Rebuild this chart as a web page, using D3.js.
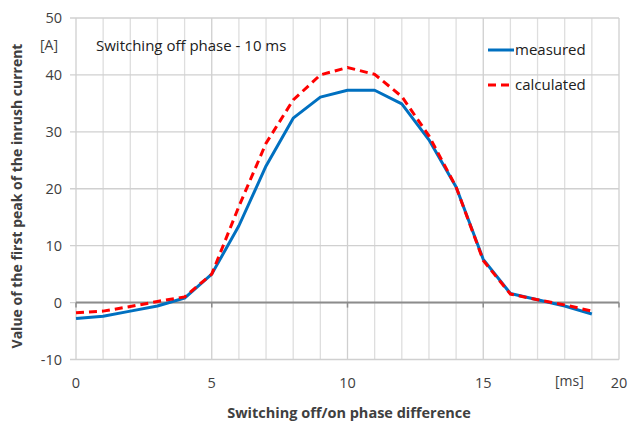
<!DOCTYPE html>
<html>
<head>
<meta charset="UTF-8">
<style>
  body { margin: 0; background: #ffffff; }
  svg { display: block; font-family: 'Open Sans', 'Noto Sans', sans-serif; }
</style>
</head>
<body>
<svg width="629" height="423"></svg>
<script src="https://cdn.jsdelivr.net/npm/d3@7"></script>
<script>
// chart values
const phaseMs = [0, 1, 2, 3, 4, 5, 6, 7, 8, 9, 10, 11, 12, 13, 14, 15, 16, 17, 18, 19];
const measured = [-2.8, -2.4, -1.5, -0.6, 0.8, 5.0, 13.5, 24.0, 32.4, 36.1, 37.3, 37.3, 34.9, 28.6, 20.3, 7.6, 1.6, 0.5, -0.6, -2.0];
const calculated = [-1.8, -1.5, -0.7, 0.2, 1.0, 5.0, 16.9, 28.0, 35.6, 40.0, 41.3, 40.1, 36.2, 29.3, 20.3, 7.4, 1.5, 0.5, -0.4, -1.5];
const xTicks = [0, 5, 10, 15, 20];
const yTicks = [-10, 0, 10, 20, 30, 40, 50];

const svg = d3.select("svg");
const plotL = 76, plotR = 619, plotT = 18, plotB = 359.5;

const x = d3.scaleLinear().domain([0, 20]).range([plotL, plotR]);
const y = d3.scaleLinear().domain([-10, 50]).range([plotB, plotT]);

// grid
const grid = svg.append("g");
grid.selectAll("line.v")
  .data(d3.range(0, 21))
  .enter().append("line")
  .attr("x1", d => x(d)).attr("x2", d => x(d))
  .attr("y1", plotT).attr("y2", plotB)
  .attr("stroke", d => d % 5 == 0 ? "#cfcfcf" : "#dedede")
  .attr("stroke-width", 1.3);
grid.selectAll("line.h")
  .data(yTicks)
  .enter().append("line")
  .attr("x1", plotL - 6).attr("x2", plotR)
  .attr("y1", d => y(d)).attr("y2", d => y(d))
  .attr("stroke", "#d0d0d0")
  .attr("stroke-width", 1.3);

// zero axis
svg.append("line")
  .attr("x1", plotL).attr("x2", plotR)
  .attr("y1", y(0)).attr("y2", y(0))
  .attr("stroke", "#8c8c8c").attr("stroke-width", 2);
svg.append("g").selectAll("line")
  .data(xTicks)
  .enter().append("line")
  .attr("x1", d => x(d)).attr("x2", d => x(d))
  .attr("y1", y(0)).attr("y2", y(0) + 5)
  .attr("stroke", "#8c8c8c").attr("stroke-width", 1.5);

// tick labels
svg.append("g").selectAll("text")
  .data(yTicks)
  .enter().append("text")
  .attr("x", 62).attr("y", d => y(d) + 5)
  .attr("text-anchor", "end")
  .attr("font-size", 14.5).attr("fill", "#404040")
  .text(d => d);
svg.append("g").selectAll("text")
  .data(xTicks)
  .enter().append("text")
  .attr("x", d => x(d)).attr("y", 388)
  .attr("text-anchor", "middle")
  .attr("font-size", 14.5).attr("fill", "#404040")
  .text(d => d);

svg.append("text").attr("x", 40).attr("y", 50)
  .attr("font-size", 14).attr("fill", "#404040").text("[A]");
svg.append("text").attr("x", 555).attr("y", 386)
  .attr("font-size", 14).attr("fill", "#404040").text("[ms]");
svg.append("text").attr("x", 96).attr("y", 51)
  .attr("font-size", 15).attr("fill", "#202020").text("Switching off phase - 10 ms");

// axis titles
svg.append("text")
  .attr("x", 349).attr("y", 418)
  .attr("text-anchor", "middle")
  .attr("font-size", 14.5).attr("font-weight", "bold").attr("fill", "#404040")
  .text("Switching off/on phase difference");
svg.append("text")
  .attr("transform", "translate(22,196) rotate(-90)")
  .attr("text-anchor", "middle")
  .attr("font-size", 14).attr("font-weight", "bold").attr("fill", "#404040")
  .text("Value of the first peak of the inrush current");

// series
const line = d3.line().x((d, i) => x(phaseMs[i])).y(d => y(d));
svg.append("path")
  .attr("d", line(measured))
  .attr("fill", "none").attr("stroke", "#0070c0").attr("stroke-width", 3)
  .attr("stroke-linejoin", "round");
svg.append("path")
  .attr("d", line(calculated))
  .attr("fill", "none").attr("stroke", "#ff0000").attr("stroke-width", 3)
  .attr("stroke-dasharray", "8,5");

// legend
const legend = [["measured", "#0070c0", null], ["calculated", "#ff0000", "8,5"]];
legend.forEach((l, i) => {
  let ly = 50 + i * 35;
  svg.append("line")
    .attr("x1", 488).attr("x2", 514).attr("y1", ly).attr("y2", ly)
    .attr("stroke", l[1]).attr("stroke-width", 3)
    .attr("stroke-dasharray", l[2]);
  svg.append("text").attr("x", 515).attr("y", ly + 5)
    .attr("font-size", 15).attr("fill", "#202020").text(l[0]);
});
</script>
</body>
</html>
